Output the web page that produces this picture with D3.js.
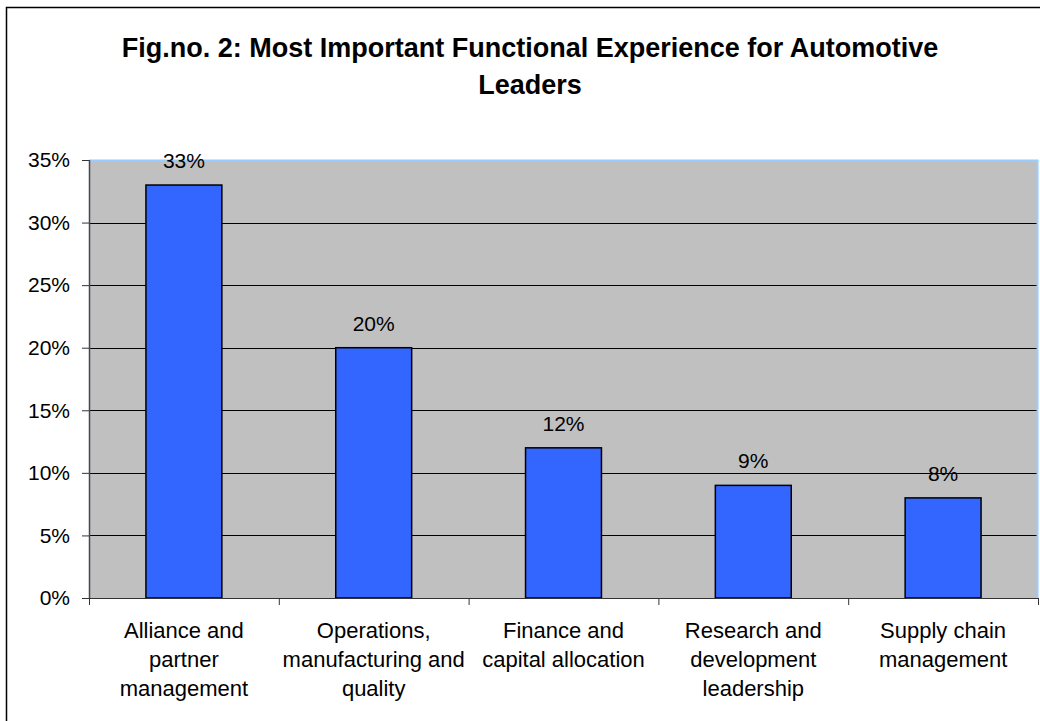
<!DOCTYPE html>
<html>
<head>
<meta charset="utf-8">
<script src="https://cdn.jsdelivr.net/npm/d3@7"></script>
<style>
  body { margin: 0; background: #fff; }
  svg { display: block; }
</style>
</head>
<body>
<div id="chart"></div>
<script>
var categories = [
    'Alliance and\npartner\nmanagement',
    'Operations,\nmanufacturing and\nquality',
    'Finance and\ncapital allocation',
    'Research and\ndevelopment\nleadership',
    'Supply chain\nmanagement'
];
var values = [0.33, 0.20, 0.12, 0.09, 0.08];
var yTicks = [0, 0.05, 0.10, 0.15, 0.20, 0.25, 0.30, 0.35];
var titleLines = ['Fig.no. 2: Most Important Functional Experience for Automotive', 'Leaders'];

(function(){

    var width = 1040;
    var height = 721;

    var margin = {
        top: 160,
        bottom: 123,
        left: 89,
        right: 2
    };

    var pformat = d3.format('.0%');
    var font = '"Liberation Sans", Arial, Helvetica, sans-serif';

    var svg = d3.select('#chart')
        .append('svg')
            .attr('width', width)
            .attr('height', height)
            .style('font-family', font);

    // outer chart frame, cropped on right and bottom like the original
    svg.append('rect')
        .attr('x', 6.5)
        .attr('y', 7.5)
        .attr('width', width + 50)
        .attr('height', height + 50)
        .attr('fill', '#fff')
        .attr('stroke', '#000')
        .attr('stroke-width', 1.5);

    svg.append('text')
        .attr('x', 530)
        .attr('y', 57)
        .attr('text-anchor', 'middle')
        .attr('font-size', '27px')
        .attr('font-weight', 'bold')
        .attr('fill', '#000')
        .selectAll('tspan')
        .data(titleLines)
        .enter()
        .append('tspan')
            .attr('x', 530)
            .attr('dy', function(d, i){ return i === 0 ? 0 : 37; })
            .text(function(d){ return d; });

    var pw = width - margin.left - margin.right;
    var ph = height - margin.top - margin.bottom;

    var g = svg.append('g')
        .attr('transform', 'translate(' + margin.left + ',' + margin.top + ')');

    var yScale = d3.scaleLinear()
        .domain([0, 0.35])
        .range([ph, 0]);

    var xScale = d3.scaleBand()
        .domain(categories)
        .range([0, pw])
        .paddingInner(0.6)
        .paddingOuter(0.3);

    var xEdge = d3.scaleLinear()
        .domain([0, categories.length])
        .range([0, pw]);

    g.append('rect')
        .attr('width', pw)
        .attr('height', ph)
        .attr('fill', '#c0c0c0');

    g.selectAll('.grid')
        .data(yTicks.filter(function(d){ return d > 0 && d < 0.35; }))
        .enter()
        .append('line')
        .attr('class', 'grid')
        .attr('x1', 0)
        .attr('x2', pw)
        .attr('y1', function(d){ return Math.round(yScale(d)) + 0.5; })
        .attr('y2', function(d){ return Math.round(yScale(d)) + 0.5; })
        .attr('stroke', '#000')
        .attr('stroke-width', 1);

    // light blue plot border on top and right
    g.append('path')
        .attr('d', 'M0,0.5H' + (pw - 0.5) + 'V' + ph)
        .attr('fill', 'none')
        .attr('stroke', '#99ccff')
        .attr('stroke-width', 2);

    g.selectAll('.bar')
        .data(values)
        .enter()
        .append('rect')
        .attr('class', 'bar')
        .attr('x', function(d, i){ return xScale(categories[i]); })
        .attr('y', function(d){ return yScale(d); })
        .attr('width', xScale.bandwidth())
        .attr('height', function(d){ return ph - yScale(d); })
        .attr('fill', '#3366ff')
        .attr('stroke', '#000')
        .attr('stroke-width', 1.5);

    g.selectAll('.label')
        .data(values)
        .enter()
        .append('text')
        .attr('class', 'label')
        .attr('x', function(d, i){ return xScale(categories[i]) + xScale.bandwidth() / 2; })
        .attr('y', function(d){ return yScale(d) - 17; })
        .attr('text-anchor', 'middle')
        .attr('font-size', '21px')
        .attr('fill', '#000')
        .text(function(d){ return pformat(d); });

    var yAxis = d3.axisLeft(yScale)
        .tickValues(yTicks)
        .tickFormat(pformat)
        .tickSize(7)
        .tickPadding(12);

    var yg = g.append('g')
        .attr('class', 'y axis')
        .call(yAxis);
    yg.select('.domain').remove();
    yg.selectAll('.tick line').attr('stroke', '#333');
    yg.selectAll('.tick text')
        .attr('font-size', '21px')
        .attr('font-family', font)
        .attr('fill', '#000');

    var xAxis = d3.axisBottom(xEdge)
        .tickValues(d3.range(categories.length + 1))
        .tickFormat('')
        .tickSize(7)
        .tickSizeOuter(0);

    var xg = g.append('g')
        .attr('class', 'x axis')
        .attr('transform', 'translate(0,' + ph + ')')
        .call(xAxis);
    xg.select('.domain').attr('stroke', '#333');
    xg.selectAll('.tick line').attr('stroke', '#333');

    g.append('line')
        .attr('x1', 0.5)
        .attr('x2', 0.5)
        .attr('y1', 0)
        .attr('y2', ph)
        .attr('stroke', '#404858')
        .attr('stroke-width', 1.5);

    var cat = g.selectAll('.cat')
        .data(categories)
        .enter()
        .append('text')
        .attr('class', 'cat')
        .attr('text-anchor', 'middle')
        .attr('font-size', '22px')
        .attr('fill', '#000')
        .attr('y', ph + 40);

    cat.selectAll('tspan')
        .data(function(d){
            var x = xScale(d) + xScale.bandwidth() / 2;
            return d.split('\n').map(function(s){ return { x: x, s: s }; });
        })
        .enter()
        .append('tspan')
        .attr('x', function(d){ return d.x; })
        .attr('dy', function(d, i){ return i === 0 ? 0 : 29; })
        .text(function(d){ return d.s; });

})();
</script>
</body>
</html>
